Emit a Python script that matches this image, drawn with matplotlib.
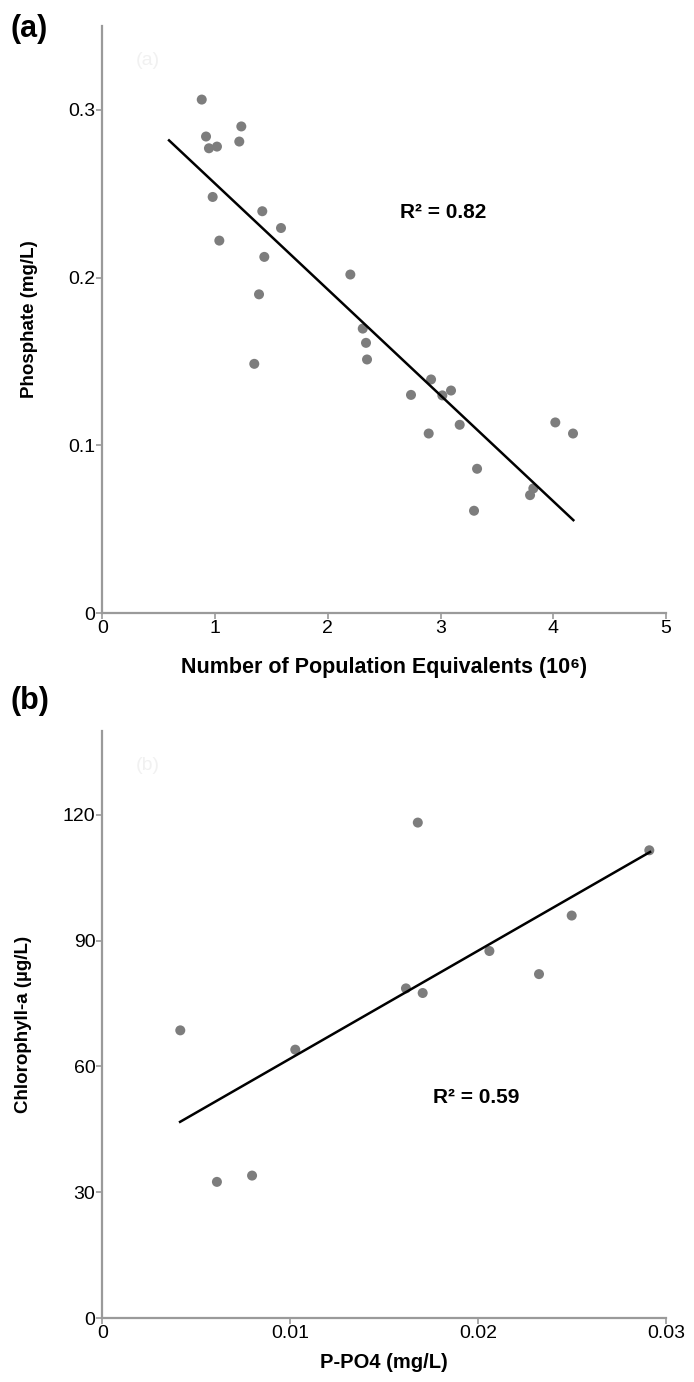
import matplotlib
matplotlib.use("Agg")
import matplotlib.pyplot as plt

# Painel (a): fosfato x equivalentes populacionais
pe_milhoes = [0.882, 0.920, 0.946, 1.017, 1.233, 1.215, 0.979, 1.038, 1.419, 1.585,
              1.437, 1.390, 1.348, 2.200, 2.310, 2.339, 2.348, 2.738, 2.916, 3.016,
              3.093, 2.895, 3.170, 3.324, 3.297, 3.794, 3.823, 4.018, 4.175]
fosfato = [0.306, 0.284, 0.277, 0.278, 0.290, 0.281, 0.248, 0.222, 0.2395, 0.2295,
           0.2123, 0.190, 0.1486, 0.2018, 0.1696, 0.1611, 0.1512, 0.1301, 0.1393, 0.1298,
           0.1327, 0.1071, 0.1123, 0.0861, 0.0611, 0.0704, 0.0744, 0.1137, 0.1071]
reta_a_x = [0.592, 4.178]
reta_a_y = [0.2817, 0.0555]
r2_a = "R² = 0.82"

# Painel (b): clorofila-a x P-PO4
ppo4 = [0.00415, 0.0061, 0.00797, 0.01027, 0.01616, 0.01705, 0.01679, 0.0206,
        0.02324, 0.02498, 0.02911]
clorofila = [68.6, 32.5, 34.0, 64.0, 78.6, 77.5, 118.1, 87.5, 82.0, 95.95, 111.5]
reta_b_x = [0.00414, 0.02915]
reta_b_y = [46.8, 111.1]
r2_b = "R² = 0.59"

ticks_a_x = [0, 1, 2, 3, 4, 5]
ticks_a_y = [0, 0.1, 0.2, 0.3]
rotulos_a_y = ["0", "0.1", "0.2", "0.3"]
ticks_b_x = [0, 0.01, 0.02, 0.03]
rotulos_b_x = ["0", "0.01", "0.02", "0.03"]
ticks_b_y = [0, 30, 60, 90, 120]

plt.rcParams['font.family'] = ['Liberation Sans', 'DejaVu Sans']

CINZA_EIXO = '#9a9a9a'
CINZA_PONTO = '#7d7d7d'


# Estilo comum aos dois paineis
def estilizar_eixo(ax):
    for lado in ['top', 'right']:
        ax.spines[lado].set_visible(False)
    for lado in ['left', 'bottom']:
        ax.spines[lado].set_color(CINZA_EIXO)
        ax.spines[lado].set_linewidth(1.6)
    ax.tick_params(colors=CINZA_EIXO, labelcolor='black', width=1.2, length=4,
                   labelsize=14, pad=1)


def desenhar_painel(ax, x, y, rx, ry, texto_r2, pos_r2, letra, pos_letra, marca):
    ax.scatter(x, y, s=52, color=CINZA_PONTO, edgecolors='none', zorder=3)
    ax.plot(rx, ry, color='black', linewidth=1.8, zorder=4)
    ax.text(pos_r2[0], pos_r2[1], texto_r2, fontsize=15, fontweight='bold',
            ha='left', va='center')
    # letra grande do painel e marca d'agua quase invisivel
    ax.text(-0.163, pos_letra, letra, transform=ax.transAxes, fontsize=22,
            fontweight='bold', ha='left', va='center')
    ax.text(0.08, 0.94, marca, transform=ax.transAxes, fontsize=14,
            color='#f1f1f1', ha='center', va='center')
    estilizar_eixo(ax)


fig = plt.figure(figsize=(6.94, 13.82), dpi=100)
ax_a = fig.add_axes([0.1474, 0.5562, 0.8123, 0.4252])
ax_b = fig.add_axes([0.1474, 0.0461, 0.8123, 0.4252])

# Painel (a)
desenhar_painel(ax_a, pe_milhoes, fosfato, reta_a_x, reta_a_y, r2_a, (2.64, 0.239),
                '(a)', 0.995, '(a)')
ax_a.set_xlim(0, 5)
ax_a.set_ylim(0, 0.35)
ax_a.set_xticks(ticks_a_x)
ax_a.set_yticks(ticks_a_y)
ax_a.set_yticklabels(rotulos_a_y)
ax_a.set_xlabel("Number of Population Equivalents (10⁶)", fontsize=15.5,
                fontweight='bold', labelpad=14)
ax_a.set_ylabel("Phosphate (mg/L)", fontsize=13.5, fontweight='bold', labelpad=22)

# Painel (b)
desenhar_painel(ax_b, ppo4, clorofila, reta_b_x, reta_b_y, r2_b, (0.0176, 52.5),
                '(b)', 1.05, '(b)')
ax_b.set_xlim(0, 0.03)
ax_b.set_ylim(0, 140)
ax_b.set_xticks(ticks_b_x)
ax_b.set_xticklabels(rotulos_b_x)
ax_b.set_yticks(ticks_b_y)
ax_b.set_xlabel("P-PO4 (mg/L)", fontsize=14.5, fontweight='bold', labelpad=8)
ax_b.set_ylabel("Chlorophyll-a (µg/L)", fontsize=13.5, fontweight='bold', labelpad=22)

fig.savefig('out.png', dpi=100)
